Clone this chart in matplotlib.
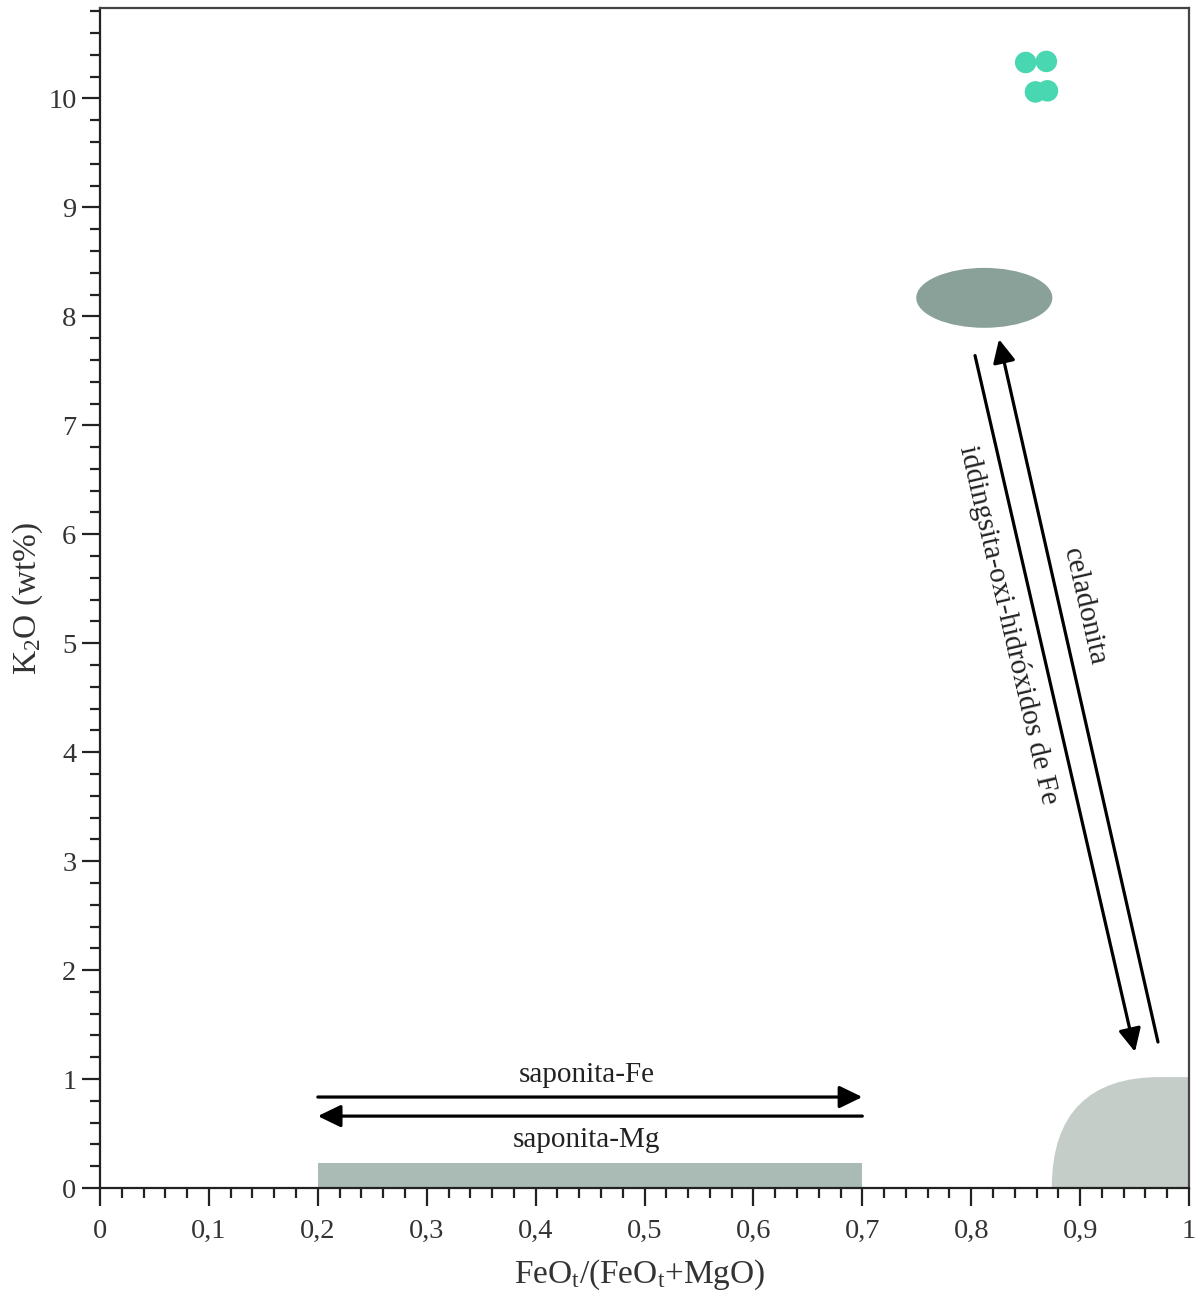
import matplotlib
matplotlib.use("Agg")
import matplotlib.pyplot as plt
from matplotlib.patches import Ellipse, Rectangle, PathPatch
from matplotlib.path import Path
from matplotlib.ticker import MultipleLocator, FuncFormatter

plt.rcParams['font.family'] = ['Liberation Serif', 'DejaVu Serif']
plt.rcParams['mathtext.fontset'] = 'custom'
plt.rcParams['mathtext.rm'] = 'Liberation Serif'
plt.rcParams['mathtext.it'] = 'Liberation Serif:italic'

# celadonite analyses
cel_x = [0.850, 0.869, 0.859, 0.870]
cel_y = [10.33, 10.34, 10.06, 10.07]

# saponite field (x range, K2O top)
sap_x = (0.20, 0.70)
sap_top = 0.23

# celadonite field: centre, width, height
cel_field = (0.812, 8.17, 0.125, 0.55)

# iddingsite / Fe-oxyhydroxide field: foot, shoulder, top
idd_foot = (0.874, 0.0)
idd_shoulder = (0.973, 1.018)
idd_ctrl = [(0.874, 0.70), (0.910, 1.018)]

# trend arrows: (start, end)
arrows = [
    ((0.20, 0.835), (0.70, 0.835)),
    ((0.70, 0.66), (0.20, 0.66)),
    ((0.8035, 7.64), (0.9504, 1.25)),
    ((0.9715, 1.34), (0.8255, 7.79)),
]

labels = [
    ("saponita-Fe", 0.447, 1.04, 0),
    ("saponita-Mg", 0.447, 0.44, 0),
    ("iddingsita-oxi-hidróxidos de Fe", 0.834, 5.17, -77),
    ("celadonita", 0.904, 5.33, -77),
]

fig = plt.figure(figsize=(11.98, 12.93), dpi=100)
ax = fig.add_axes([0.0835, 0.0812, 0.909, 0.9126])

ax.add_patch(Rectangle((sap_x[0], 0), sap_x[1] - sap_x[0], sap_top,
                       facecolor='#aabbb5', edgecolor='none', zorder=1))
ax.add_patch(Ellipse(cel_field[:2], cel_field[2], cel_field[3],
                     facecolor='#8aa199', edgecolor='none', zorder=1))

verts = [idd_foot, idd_ctrl[0], idd_ctrl[1], idd_shoulder,
         (1.0, idd_shoulder[1]), (1.0, 0.0), idd_foot]
codes = [Path.MOVETO, Path.CURVE4, Path.CURVE4, Path.CURVE4,
         Path.LINETO, Path.LINETO, Path.CLOSEPOLY]
ax.add_patch(PathPatch(Path(verts, codes), facecolor='#c4cdc7',
                       edgecolor='none', zorder=1))

ax.scatter(cel_x, cel_y, s=240, color='#48d7b0', edgecolors='none', zorder=3)

for start, end in arrows:
    ax.annotate('', xy=end, xytext=start,
                arrowprops=dict(arrowstyle='-|>,head_length=0.7,head_width=0.34',
                                color='black', lw=2.3, shrinkA=0, shrinkB=0,
                                mutation_scale=20))

for txt, x, y, rot in labels:
    ax.text(x, y, txt, fontsize=21, rotation=rot, ha='center', va='center',
            rotation_mode='anchor', color='#222222')

ax.set_xlim(0, 1)
ax.set_ylim(0, 10.83)

ax.xaxis.set_major_locator(MultipleLocator(0.1))
ax.xaxis.set_minor_locator(MultipleLocator(0.02))
ax.yaxis.set_major_locator(MultipleLocator(1))
ax.yaxis.set_minor_locator(MultipleLocator(0.2))


def comma(v, pos):
    if abs(v) < 1e-9:
        return '0'
    if abs(v - round(v)) < 1e-9:
        return str(int(round(v)))
    return f'{v:.1f}'.replace('.', ',')


ax.xaxis.set_major_formatter(FuncFormatter(comma))
ax.yaxis.set_major_formatter(FuncFormatter(comma))

ax.tick_params(which='major', direction='out', length=13, width=1.6,
               labelsize=20.5, color='#222222', labelcolor='#333333')
ax.tick_params(which='minor', direction='out', length=7, width=1.6, color='#222222')
ax.tick_params(axis='x', which='major', pad=9)
ax.tick_params(axis='y', which='major', pad=4)

for side in ['left', 'bottom', 'right', 'top']:
    ax.spines[side].set_linewidth(1.6)
    ax.spines[side].set_color('#222222')
ax.spines['top'].set_color('#444444')
ax.spines['right'].set_color('#444444')

ax.set_xlabel(r'FeO$_\mathrm{t}$/(FeO$_\mathrm{t}$+MgO)', fontsize=24, color='#333333')
ax.set_ylabel(r'K$_2$O (wt%)', fontsize=24, color='#333333')
ax.xaxis.label.set_va('center')
ax.yaxis.label.set_va('center')
ax.xaxis.set_label_coords(0.496, -0.0737)
ax.yaxis.set_label_coords(-0.0661, 0.50)

fig.savefig('out.png', dpi=100)
